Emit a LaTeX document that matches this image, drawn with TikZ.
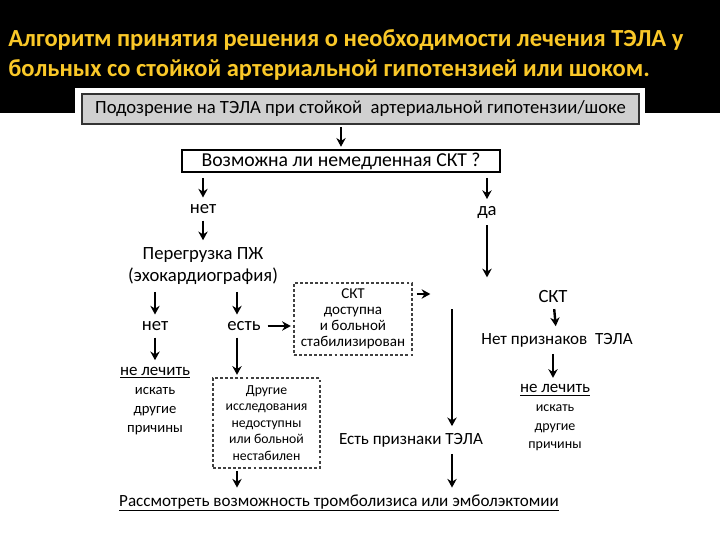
\documentclass[tikz,border=0pt]{standalone}
\usepackage{fontspec}
\setmainfont{Carlito}
\usetikzlibrary{arrows.meta}
\definecolor{titleyellow}{RGB}{250,200,40}
\definecolor{boxgray}{RGB}{208,208,208}

\begin{document}
\begin{tikzpicture}[x=0.75pt, y=-0.75pt, >={Stealth[length=6.5pt, width=7pt]},
	arr/.style={->, line width=1.8pt, shorten >=2pt, shorten <=2pt},
	txt/.style={inner sep=3pt, align=center, font=\fontsize{14}{17}\selectfont},
	txtm/.style={txt, font=\fontsize{12.8}{15}\selectfont},
	dbox/.style={draw=black!75, dashed, dash pattern=on 2.2pt off 1.6pt, line width=0.8pt,
		align=center, inner sep=0pt, font=\fontsize{10.3}{12.3}\selectfont}]
	% Nền: dải đen phía trên và vùng trắng
	\useasboundingbox (0,0) rectangle (720,540);
	\fill[white] (0,0) rectangle (720,540);
	\fill[black] (0,0) rectangle (720,113);
	\fill[white] (75,88) rectangle (645,113);
	% Tiêu đề
	\node[anchor=west, inner sep=0pt, text=titleyellow, font=\fontsize{18.4}{20}\bfseries] (title1) at (8,40)
		{Алгоритм принятия решения о необходимости лечения ТЭЛА у};
	\node[anchor=west, inner sep=0pt, text=titleyellow, font=\fontsize{18.4}{20}\bfseries] (title2) at (8,70)
		{больных со стойкой артериальной гипотензией или шоком.};
	% Các khối chính
	\node[txt, draw=black!80, fill=boxgray, line width=1pt, minimum width=417.75pt, minimum height=22.5pt] (suspect) at (360.5,109)
		{Подозрение на ТЭЛА при стойкой \ артериальной гипотензии/шоке};
	\node[txt, draw=black, fill=white, line width=0.9pt, minimum width=238.5pt, minimum height=16.5pt, inner sep=0pt,
		font=\fontsize{14.8}{17}\selectfont] (ctq) at (341,161)
		{Возможна ли немедленная СКТ ?};
	\node[txt] (net1) at (203,209) {нет};
	\node[txt] (da) at (487,212) {да};
	\node[txt] (rv) at (203,266) {Перегрузка ПЖ\\(эхокардиография)};
	\node[txt] (net2) at (155,326) {нет};
	\node[txt] (est) at (244,326) {есть};
	\node[dbox, minimum width=88.5pt, minimum height=54pt, font=\fontsize{11.3}{12}\selectfont] (sktbox) at (353,319)
		{СКТ\\доступна\\и больной\\стабилизирован};
	\node[dbox, minimum width=80.25pt, minimum height=67.5pt] (otherbox) at (266.5,423)
		{Другие\\исследования\\недоступны\\или больной\\нестабилен};
	\node[txt] (skt) at (553,296) {СКТ};
	\node[txtm] (noPE) at (557,340) {Нет признаков \ ТЭЛА};
	\node[txtm] (yesPE) at (411,440) {Есть признаки ТЭЛА};
	\node[txt, font=\fontsize{11}{14.3}\selectfont] (notreatL) at (155,401)
		{{\fontsize{12.7}{14}\selectfont\underline{не лечить}}\\искать\\другие\\причины};
	\node[txt, font=\fontsize{10.5}{14}\selectfont] (notreatR) at (555,418)
		{{\fontsize{12.7}{14}\selectfont\underline{не лечить}}\\искать\\другие\\причины};
	\node[txtm] (final) at (339,503) {\underline{Рассмотреть возможность тромболизиса или эмболэктомии}};
	% Điểm tự do
	\coordinate (daend) at (487,280);
	\coordinate (shortend) at (433,294);
	\coordinate (longtop) at (452,309);
	% Mũi tên
	\draw[arr] (suspect.south -| ctq) -- (ctq);
	\draw[arr] ([yshift=-2pt]ctq.south -| net1) -- (net1);
	\draw[arr] ([yshift=-2pt]ctq.south -| da) -- (da);
	\draw[arr] (net1) -- (rv);
	\draw[arr] (rv.south -| net2) -- (net2);
	\draw[arr] (rv.south -| 237,0) -- (est.north -| 237,0);
	\draw[arr] (est.east) -- (est.east -| sktbox.west);
	\draw[arr, shorten <=3pt] (sktbox.east |- shortend) -- (shortend);
	\draw[arr] (da) -- (daend);
	\draw[arr] (skt) -- (noPE);
	\draw[arr] (noPE.south -| 553,0) -- (notreatR.north -| 553,0);
	\draw[arr] (net2) -- (notreatL);
	\draw[arr] (est.south -| 237,0) -- (otherbox.north -| 237,0);
	\draw[arr] (otherbox.south -| 237,0) -- (final.north -| 237,0);
	\draw[arr, shorten <=0pt] (longtop) -- (yesPE.north -| longtop);
	\draw[arr] (yesPE.south -| longtop) -- (final.north -| longtop);
\end{tikzpicture}
\end{document}
